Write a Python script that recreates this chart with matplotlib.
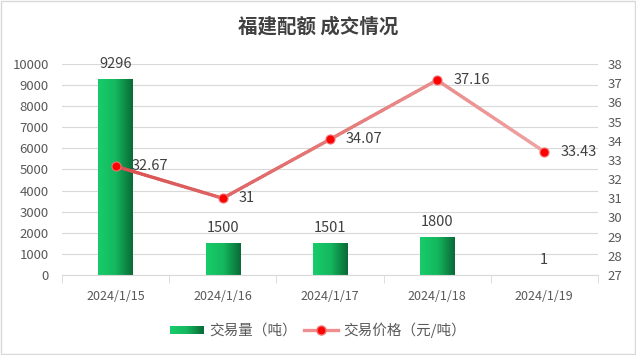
import numpy as np
import matplotlib
matplotlib.use('Agg')
import matplotlib.pyplot as plt
from matplotlib.colors import LinearSegmentedColormap, to_rgb
from matplotlib.collections import LineCollection
from matplotlib.legend_handler import HandlerBase
from matplotlib.patches import Rectangle
from matplotlib.lines import Line2D

plt.rcParams['font.family'] = ['Noto Sans CJK SC', 'DejaVu Sans']

# data
dates = ['2024/1/15', '2024/1/16', '2024/1/17', '2024/1/18', '2024/1/19']
volume = [9296, 1500, 1501, 1800, 1]
price = [32.67, 31, 34.07, 37.16, 33.43]

green_cmap = LinearSegmentedColormap.from_list('g', ['#17cc6a', '#14b85e', '#0a6a36'])
red_start, red_end = '#d95050', '#f0a2a2'

fig = plt.figure(figsize=(6.36, 3.55), dpi=100)
fig.patches.append(Rectangle((0.001, 0.002), 0.997, 0.995, transform=fig.transFigure,
                             fill=False, edgecolor='#d9d9d9', linewidth=1))
ax = fig.add_axes([0.0975, 0.2254, 0.8425, 0.5943])
ax2 = ax.twinx()

x = np.arange(len(dates))

# gradient bars
bars = ax.bar(x, volume, width=0.32, color='none', edgecolor='none', zorder=2)
grad = np.linspace(0, 1, 64).reshape(1, -1)
for b in bars:
    bx, by = b.get_x(), b.get_y()
    w, h = b.get_width(), b.get_height()
    im = ax.imshow(grad, cmap=green_cmap, aspect='auto', extent=(bx, bx + w, by, by + h),
                   zorder=2)
    im.set_clip_path(b)
for xi, v in zip(x, volume):
    ax.text(xi, v + 380, str(v), ha='center', va='bottom', fontsize=10.5, color='#404040')

ax.set_xlim(-0.5, len(dates) - 0.5)
ax.set_ylim(0, 10000)
ax.set_yticks(range(0, 10001, 1000))
ax.grid(axis='y', color='#d9d9d9', linewidth=0.8)
ax.set_axisbelow(True)
ax.set_xticks(x)
ax.set_xticklabels(dates, fontsize=9, color='#595959')
ax.set_xticks(np.arange(-0.5, len(dates)), minor=True)
ax.tick_params(axis='x', which='major', length=0, pad=11)
ax.tick_params(axis='x', which='minor', length=6, color='#d9d9d9')
ax.tick_params(axis='y', length=0, labelsize=9.5, labelcolor='#595959', pad=9.5)
for s in ['top', 'left', 'right']:
    ax.spines[s].set_visible(False)
ax.spines['bottom'].set_color('#d9d9d9')

# gradient price line
pts = np.column_stack([x, price])
segs = []
cols = []
c0, c1 = np.array(to_rgb(red_start)), np.array(to_rgb(red_end))
n = 40
for i in range(len(x) - 1):
    for k in range(n):
        t0, t1 = k / n, (k + 1) / n
        p0 = pts[i] + (pts[i + 1] - pts[i]) * t0
        p1 = pts[i] + (pts[i + 1] - pts[i]) * t1
        segs.append([p0, p1])
        f = (i + (t0 + t1) / 2) / (len(x) - 1)
        cols.append(c0 + (c1 - c0) * f)
lc = LineCollection(segs, colors=cols, linewidths=2.4, capstyle='round', zorder=3)
ax2.add_collection(lc)
ax2.plot(x, price, linestyle='none', marker='o', markersize=6.5, color='#ff0000',
         markeredgecolor='#f07070', markeredgewidth=0.8, zorder=4)
for xi, p in zip(x, price):
    ax2.text(xi + 0.15, p, f'{p:g}', ha='left', va='center', fontsize=10.5, color='#404040',
             zorder=5)

ax2.set_ylim(27, 38)
ax2.set_yticks(range(27, 39))
ax2.tick_params(axis='y', length=0, labelsize=9.5, labelcolor='#595959', pad=7)
for s in ['top', 'left', 'right', 'bottom']:
    ax2.spines[s].set_visible(False)

fig.text(0.5, 0.924, '福建配额 成交情况', ha='center', va='center', fontsize=14,
         fontweight='bold', color='#404040')


class GradientHandler(HandlerBase):
    def create_artists(self, legend, orig, xd, yd, width, height, fontsize, trans):
        arts = []
        m = 20
        for k in range(m):
            r = Rectangle((xd + width * k / m, yd + height * 0.05), width / m + 0.3, height * 0.8,
                          facecolor=green_cmap((k + 0.5) / m), edgecolor='none',
                          transform=trans)
            arts.append(r)
        return arts


bar_handle = Rectangle((0, 0), 1, 1)
line_handle = Line2D([], [], color='#ee8f8f', linewidth=2.4, marker='o', markersize=6.5,
                     markerfacecolor='#ff0000', markeredgecolor='#f07070')
fig.legend([bar_handle, line_handle], ['交易量（吨）', '交易价格（元/吨）'],
           loc='center', bbox_to_anchor=(0.5, 0.07), ncol=2, frameon=False,
           fontsize=10.5, labelcolor='#595959', handlelength=2.3, columnspacing=0.5,
           handletextpad=0.4, handler_map={Rectangle: GradientHandler()})

fig.savefig('out.png', dpi=100)
